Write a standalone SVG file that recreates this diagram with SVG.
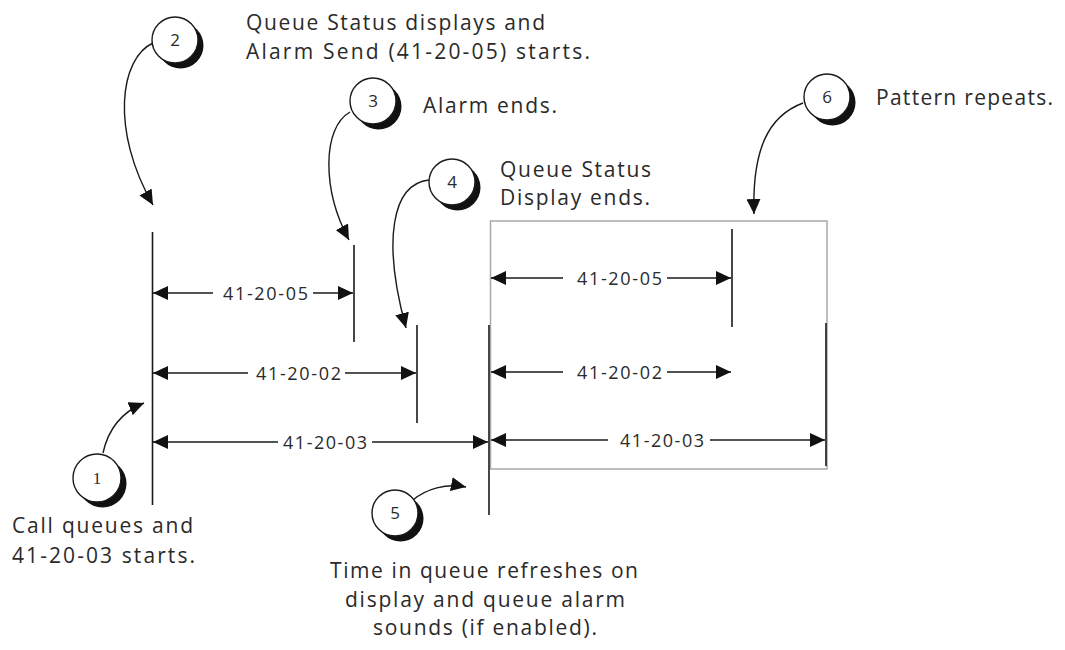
<svg xmlns="http://www.w3.org/2000/svg" width="1065" height="650" viewBox="0 0 1065 650">
<style>
.t{font-family:"Open Sans","Liberation Sans",Arial,sans-serif;font-size:21px;fill:#2a2a2a}
.d{font-family:"Open Sans","Liberation Sans",Arial,sans-serif;font-size:18px;fill:#2a2a2a;text-anchor:middle}
.n{font-family:"Open Sans","Liberation Sans",Arial,sans-serif;font-size:17px;fill:#2a2a2a;text-anchor:middle}
.ln{stroke:#1a1a1a;stroke-width:1.6;fill:none}
.ar{stroke:#1a1a1a;stroke-width:1.4;fill:none;marker-end:url(#ah)}
.sh{fill:#111}
.cw{fill:#fff;stroke:#1a1a1a;stroke-width:1.4}
</style>
<defs>
<marker id="ah" markerUnits="userSpaceOnUse" markerWidth="16" markerHeight="14" refX="15" refY="7" orient="auto-start-reverse">
<path d="M0,0 L15,7 L0,14 Z" fill="#111"/>
</marker>
</defs>
<rect width="1065" height="650" fill="#fff"/>

<g id="frame">
<rect x="490.5" y="221" width="336.5" height="248" fill="none" stroke="#a8a8a8" stroke-width="1.5"/>
</g>

<g id="timelines" class="ln">
<line x1="152.5" y1="232" x2="152.5" y2="505"/>
<line x1="354" y1="245" x2="354" y2="342"/>
<line x1="417" y1="325" x2="417" y2="423"/>
<line x1="489" y1="325" x2="489" y2="515"/>
<line x1="732" y1="229" x2="732" y2="327"/>
<line x1="826" y1="323" x2="826" y2="466"/>
</g>

<g id="connectors">
<path class="ar" d="M213,293 L153,293"/>
<path class="ar" d="M313,293 L353,293"/>
<path class="ar" d="M248,373 L153,373"/>
<path class="ar" d="M345,373 L416,373"/>
<path class="ar" d="M278,442 L153,442"/>
<path class="ar" d="M372,442 L488,442"/>
<path class="ar" d="M563,278 L491,278"/>
<path class="ar" d="M667,278 L731,278"/>
<path class="ar" d="M563,372 L491,372"/>
<path class="ar" d="M667,372 L731,372"/>
<path class="ar" d="M608,440 L491,440"/>
<path class="ar" d="M710,440 L825,440"/>
<path class="ar" d="M153,43 C120,58 110,130 153,205"/>
<path class="ar" d="M350,112 C322,128 322,190 349,240"/>
<path class="ar" d="M429,180 C392,184 382,240 406,328"/>
<path class="ar" d="M803,103 C768,116 752,150 754,214"/>
<path class="ar" d="M103,453 C108,430 122,412 144,403"/>
<path class="ar" d="M413,500 C426,489 446,483 466,487"/>
</g>

<g id="dimlabels">
<text class="d" x="265.5" y="299.5" textLength="85">41-20-05</text>
<text class="d" x="298.5" y="379.5" textLength="85">41-20-02</text>
<text class="d" x="325" y="448.5" textLength="84">41-20-03</text>
<text class="d" x="619.5" y="284.5" textLength="85">41-20-05</text>
<text class="d" x="619.5" y="378.5" textLength="85">41-20-02</text>
<text class="d" x="662" y="446.5" textLength="84">41-20-03</text>
</g>

<g id="c1"><circle class="sh" cx="102.5" cy="483.5" r="24"/><circle class="cw" cx="97" cy="478" r="24"/><text class="n" x="97" y="484" style="font-family:'Liberation Serif',serif">1</text></g>
<g id="c2"><circle class="sh" cx="180.5" cy="45.5" r="23"/><circle class="cw" cx="175" cy="40" r="23"/><text class="n" x="175" y="46">2</text></g>
<g id="c3"><circle class="sh" cx="378.5" cy="106.5" r="23"/><circle class="cw" cx="373" cy="101" r="23"/><text class="n" x="373" y="107">3</text></g>
<g id="c4"><circle class="sh" cx="457.5" cy="187.5" r="23"/><circle class="cw" cx="452" cy="182" r="23"/><text class="n" x="452" y="188">4</text></g>
<g id="c5"><circle class="sh" cx="400.5" cy="518.5" r="23"/><circle class="cw" cx="395" cy="513" r="23"/><text class="n" x="395" y="519">5</text></g>
<g id="c6"><circle class="sh" cx="832.5" cy="102.5" r="23"/><circle class="cw" cx="827" cy="97" r="23"/><text class="n" x="827" y="103">6</text></g>

<g id="labels">
<text class="t" x="246" y="30" textLength="299">Queue Status displays and</text>
<text class="t" x="246" y="59" textLength="344">Alarm Send (41-20-05) starts.</text>
<text class="t" x="423" y="113" textLength="134">Alarm ends.</text>
<text class="t" x="500" y="177" textLength="151">Queue Status</text>
<text class="t" x="500" y="205" textLength="150">Display ends.</text>
<text class="t" x="876" y="105" textLength="177">Pattern repeats.</text>
<text class="t" x="12" y="533" textLength="181">Call queues and</text>
<text class="t" x="12" y="563" textLength="183">41-20-03 starts.</text>
<text class="t" x="330" y="578" textLength="308">Time in queue refreshes on</text>
<text class="t" x="345" y="607" textLength="280">display and queue alarm</text>
<text class="t" x="373" y="635" textLength="224">sounds (if enabled).</text>
</g>
</svg>
